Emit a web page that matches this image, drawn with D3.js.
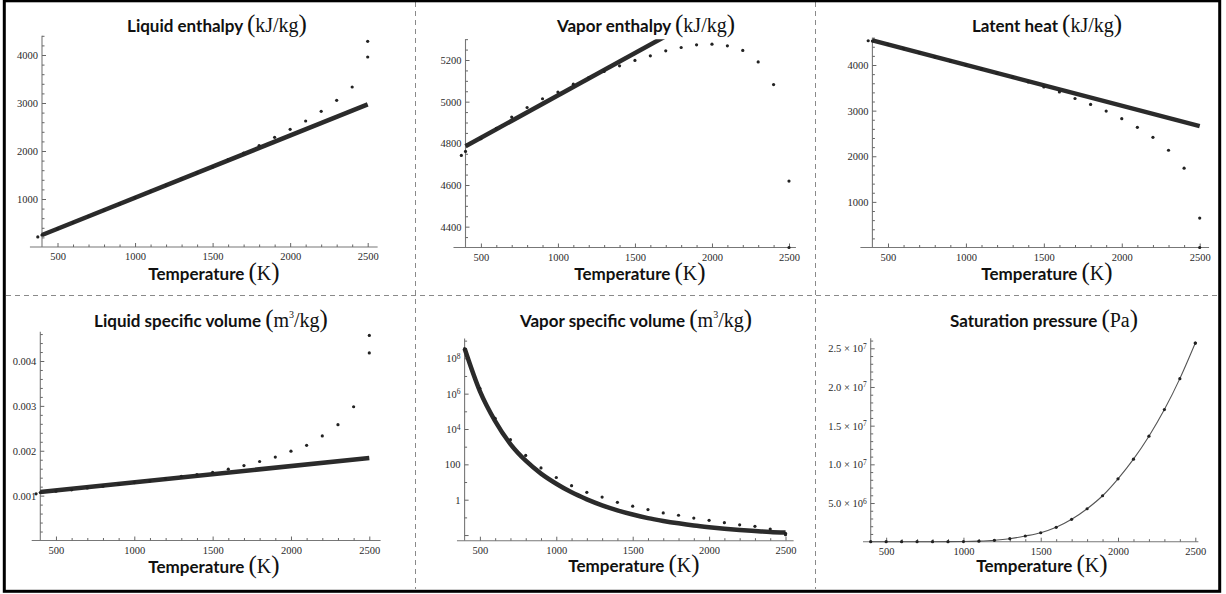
<!DOCTYPE html>
<html><head><meta charset="utf-8">
<script src="https://cdn.jsdelivr.net/npm/d3@7"></script>
<style>
body{margin:0;background:#fff;}
svg{display:block;}
.sans{font-family:Lato,"Open Sans",sans-serif;font-weight:bold;}
.serif{font-family:"Liberation Serif","DejaVu Serif",serif;font-weight:normal;}
</style></head><body>
<svg id="chart" width="1226" height="594"></svg>
<script>
// ---------- data ----------
const pointTemps = [373,400,500,600,700,800,900,1000,1100,1200,1300,1400,1500,1600,1700,1800,1900,2000,2100,2200,2300,2400,2500,2500];
const liquidEnthalpy = [210,250,380,510,640,770,900,1030,1160,1290,1420,1550,1667,1819,1958,2112,2285,2452,2625,2827,3056,3333,3958,4285];
const vaporEnthalpy = [4742,4761,4822,4872,4926,4972,5014,5046,5084,5115,5145,5172,5198,5220,5244,5260,5273,5276,5268,5246,5191,5082,4619,4300];
const latentHeat = [4532,4526,4450,4360,4270,4180,4090,4000,3910,3820,3730,3630,3520,3410,3266,3135,2990,2823,2634,2415,2131,1738,646,0];
const liquidVolume = [0.00104,0.00107,0.00110,0.00113,0.00117,0.00121,0.00125,0.00129,0.00133,0.00138,0.00143,0.00147,0.00152,0.00159,0.00167,0.00176,0.00186,0.00199,0.00212,0.00233,0.00258,0.00298,0.00418,0.00457];
const vaporVolume = [null,3.5e8,2e6,4e4,2.5e3,320,63,18,6.2,2.6,1.4,0.71,0.43,0.275,0.178,0.132,0.091,0.068,0.05,0.038,0.031,0.022,0.0126,0.0105];
const saturationPressure = [null,0,0,0,0,1e3,5e3,2e4,7e4,1.8e5,3.9e5,7.4e5,1.16e6,1.86e6,2.89e6,4.26e6,5.94e6,8.13e6,1.067e7,1.364e7,1.708e7,2.108e7,2.568e7,2.568e7];

const fitTemps = [400,2500];
const liquidEnthalpyFit = [250,2970];
const vaporEnthalpyFit = [4786,5640];
const latentHeatFit = [4540,2660];
const liquidVolumeFit = [0.00108,0.00184];
const curveTemps = [400,500,600,700,800,900,1000,1100,1200,1300,1400,1500,1600,1700,1800,1900,2000,2100,2200,2300,2400,2500];
const vaporVolumeFit = [3.6e8,1.4e6,2.8e4,1.4e3,160,30,8,2.6,1.05,0.48,0.25,0.145,0.091,0.063,0.046,0.035,0.028,0.023,0.0195,0.017,0.015,0.0138];
const pressureFit = [0,0,0,0,1e3,5e3,2e4,7e4,1.8e5,3.9e5,7.4e5,1.16e6,1.86e6,2.89e6,4.26e6,5.94e6,8.13e6,1.067e7,1.364e7,1.708e7,2.108e7,2.568e7];

const xTickValues = [500,1000,1500,2000,2500];
const panelTitles = ["Liquid enthalpy","Vapor enthalpy","Latent heat","Liquid specific volume","Vapor specific volume","Saturation pressure"];
const panelUnits = ["kJ/kg","kJ/kg","kJ/kg","m3/kg","m3/kg","Pa"];
const xAxisTitle = "Temperature";
const xAxisUnit = "K";

// ---------- layout ----------
const svg = d3.select("#chart");
const zip = (a,b)=>a.map((t,i)=>[t,b[i]]).filter(d=>d[1]!==null);

const panels = [
 {pts:liquidEnthalpy, fitT:fitTemps, fit:liquidEnthalpyFit, xr:[42,367.7], ay:247, yType:"lin", yd:[0,4000], yr:[247,55], yTop:4400,
  yMajor:[1000,2000,3000,4000], yMinor:d3.range(200,4401,200), xExt:[322,2564], tc:[217,32], xc:[214,280], thick:true, fmt:d3.format("d")},
 {pts:vaporEnthalpy, fitT:fitTemps, fit:vaporEnthalpyFit, xr:[465.5,789], ay:247.5, yType:"lin", yd:[4300,5200], yr:[247.5,60], yTop:5300,
  yMajor:[4400,4600,4800,5000,5200], yMinor:d3.range(4350,5301,50), xExt:[322,2545], tc:[646,32], xc:[640,280], thick:true, fmt:d3.format("d")},
 {pts:latentHeat, fitT:fitTemps, fit:latentHeatFit, xr:[872.4,1199.7], ay:247.5, yType:"lin", yd:[0,4000], yr:[247.5,65], yTop:4600,
  yMajor:[1000,2000,3000,4000], yMinor:d3.range(200,4601,200), xExt:[323,2560], tc:[1047,32], xc:[1047,280], thick:true, fmt:d3.format("d")},
 {pts:liquidVolume, fitT:fitTemps, fit:liquidVolumeFit, xr:[40.3,369.3], ay:540.5, yType:"lin", yd:[0,0.004], yr:[540.5,361], yTop:0.00465,
  yMajor:[0.001,0.002,0.003,0.004], yMinor:d3.range(1,24).map(i=>i*0.0002), xExt:[345,2572], tc:[211,327], xc:[214,572.5], thick:true, fmt:d3.format(".3f")},
 {pts:vaporVolume, fitT:curveTemps, fit:vaporVolumeFit, xr:[464.6,785.5], ay:540.7, yType:"log", yd:[1,1e8], yr:[499.7,358.3], yTop:1.3e9, yBottom:0.0048,
  yMajor:[0.01,1,100,1e4,1e6,1e8], yMinor:[0.1,10,1e3,1e5,1e7,1e9], xExt:[350,2553], tc:[636,327], xc:[634,572], thick:true, fmt:null, curve:true},
 {pts:saturationPressure, fitT:curveTemps, fit:pressureFit, xr:[870.7,1195.3], ay:541.7, yType:"lin", yd:[0,2.5e7], yr:[541.7,348.3], yTop:2.63e7,
  yMajor:[5e6,1e7,1.5e7,2e7,2.5e7], yMinor:d3.range(1e6,2.61e7,1e6), xExt:[350,2520], tc:[1044,327], xc:[1042,572], thick:false, fmt:null, curve:true}
];

// dashed dividers
const dash = svg.append("g").attr("stroke","#8a8a8a").attr("stroke-width",1).attr("stroke-dasharray","5,4").attr("fill","none");
dash.append("line").attr("x1",6).attr("x2",1218).attr("y1",295.5).attr("y2",295.5);
dash.append("line").attr("x1",415.5).attr("x2",415.5).attr("y1",2).attr("y2",589);
dash.append("line").attr("x1",815.5).attr("x2",815.5).attr("y1",2).attr("y2",589);

function styleLabels(a){
  a.attr("font-family","'Liberation Serif','DejaVu Serif',serif").attr("font-size",10.5);
  a.selectAll(".tick text").attr("fill","#2a2a2a");
}

panels.forEach((p,i)=>{
  const g = svg.append("g");
  const x = d3.scaleLinear().domain([400,2500]).range(p.xr);
  const y = (p.yType==="log"? d3.scaleLog() : d3.scaleLinear()).domain(p.yd).range(p.yr);
  const topPx = y(p.yTop);

  // axes lines
  g.append("line").attr("x1",x(p.xExt[0])).attr("x2",x(p.xExt[1])).attr("y1",p.ay).attr("y2",p.ay)
    .attr("stroke","#777").attr("stroke-width",1.1);
  g.append("line").attr("x1",x(400)).attr("x2",x(400)).attr("y1",p.ay).attr("y2",topPx)
    .attr("stroke","#777").attr("stroke-width",1.1);

  // x ticks
  const xMinor = d3.range(500,2501,100).filter(t=>t%500!==0);
  const xa = g.append("g").attr("transform",`translate(0,${p.ay})`)
    .call(d3.axisBottom(x).tickValues(xTickValues).tickSizeInner(-4).tickSizeOuter(0).tickPadding(6).tickFormat(d3.format("d")));
  const xm = g.append("g").attr("transform",`translate(0,${p.ay})`)
    .call(d3.axisBottom(x).tickValues(xMinor).tickSizeInner(-2.5).tickSizeOuter(0).tickFormat(""));
  // y ticks
  const ya = g.append("g").attr("transform",`translate(${x(400)},0)`)
    .call(d3.axisLeft(y).tickValues(p.yMajor).tickSizeInner(-4).tickSizeOuter(0).tickPadding(4)
      .tickFormat(p.fmt ? p.fmt : ()=>""));
  const ym = g.append("g").attr("transform",`translate(${x(400)},0)`)
    .call(d3.axisLeft(y).tickValues(p.yMinor.filter(v=>!p.yMajor.includes(v) && v<=p.yTop)).tickSizeInner(-2.5).tickSizeOuter(0).tickFormat(""));
  [xa,xm,ya,ym].forEach(a=>{a.select(".domain").remove(); a.selectAll(".tick line").attr("stroke","#666");});
  styleLabels(xa); styleLabels(ya);

  if(i===4){
    ya.selectAll(".tick text").each(function(d){
      const t=d3.select(this); const e=Math.round(Math.log10(d));
      if(e<0) return;
      if(e<=2){ t.text(String(d)); }
      else { t.append("tspan").text("10"); t.append("tspan").attr("dy","-0.45em").attr("font-size","7.5px").text(e); }
    });
  }
  if(i===5){
    ya.selectAll(".tick text").each(function(d){
      const t=d3.select(this); const e=Math.floor(Math.log10(d)); const m=(d/Math.pow(10,e)).toFixed(1);
      t.append("tspan").text(m+" \u00d7 10"); t.append("tspan").attr("dy","-0.45em").attr("font-size","7.5px").text(e);
    });
  }

  // clip
  const cid="clip"+i;
  g.append("clipPath").attr("id",cid).append("rect")
    .attr("x",x(p.xExt[0])).attr("y",topPx).attr("width",x(p.xExt[1])-x(p.xExt[0])).attr("height",p.ay-topPx+3);
  const data = g.append("g").attr("clip-path",`url(#${cid})`);

  const line = d3.line().x(d=>x(d[0])).y(d=>y(d[1]));
  if(p.curve) line.curve(d3.curveMonotoneX);
  data.append("path").datum(zip(p.fitT,p.fit)).attr("d",line).attr("fill","none")
    .attr("stroke", p.thick? "#2b2b2b" : "#555").attr("stroke-width", p.thick? 4.5 : 1.1);

  data.selectAll("circle").data(zip(pointTemps,p.pts).filter(d=> p.yType!=="log" || d[1]>0)).join("circle")
    .attr("cx",d=>x(d[0])).attr("cy",d=>y(d[1])).attr("r",1.6).attr("fill","#222");

  // title
  const tt = g.append("text").attr("x",p.tc[0]).attr("y",p.tc[1]).attr("text-anchor","middle").attr("fill","#111");
  tt.append("tspan").attr("class","sans").attr("font-size","17px").text(panelTitles[i]+" ");
  tt.append("tspan").attr("class","serif").attr("font-size","25px").text("(");
  const u = panelUnits[i];
  if(u.startsWith("m3")){
    tt.append("tspan").attr("class","serif").attr("font-size","20px").text("m");
    tt.append("tspan").attr("class","serif").attr("font-size","10px").attr("dy","-9").text("3");
    tt.append("tspan").attr("class","serif").attr("font-size","20px").attr("dy","9").text("/kg");
  } else {
    tt.append("tspan").attr("class","serif").attr("font-size","20px").text(u);
  }
  tt.append("tspan").attr("class","serif").attr("font-size","25px").text(")");

  const xt = g.append("text").attr("x",p.xc[0]).attr("y",p.xc[1]).attr("text-anchor","middle").attr("fill","#111");
  xt.append("tspan").attr("class","sans").attr("font-size","17px").text(xAxisTitle+" ");
  xt.append("tspan").attr("class","serif").attr("font-size","25px").text("(");
  xt.append("tspan").attr("class","serif").attr("font-size","20px").text(xAxisUnit);
  xt.append("tspan").attr("class","serif").attr("font-size","25px").text(")");
});

// outer frame
svg.append("rect").attr("x",4.3).attr("y",0.8).attr("width",1215.4).attr("height",590.5)
  .attr("fill","none").attr("stroke","#000").attr("stroke-width",3);
</script>
</body></html>
